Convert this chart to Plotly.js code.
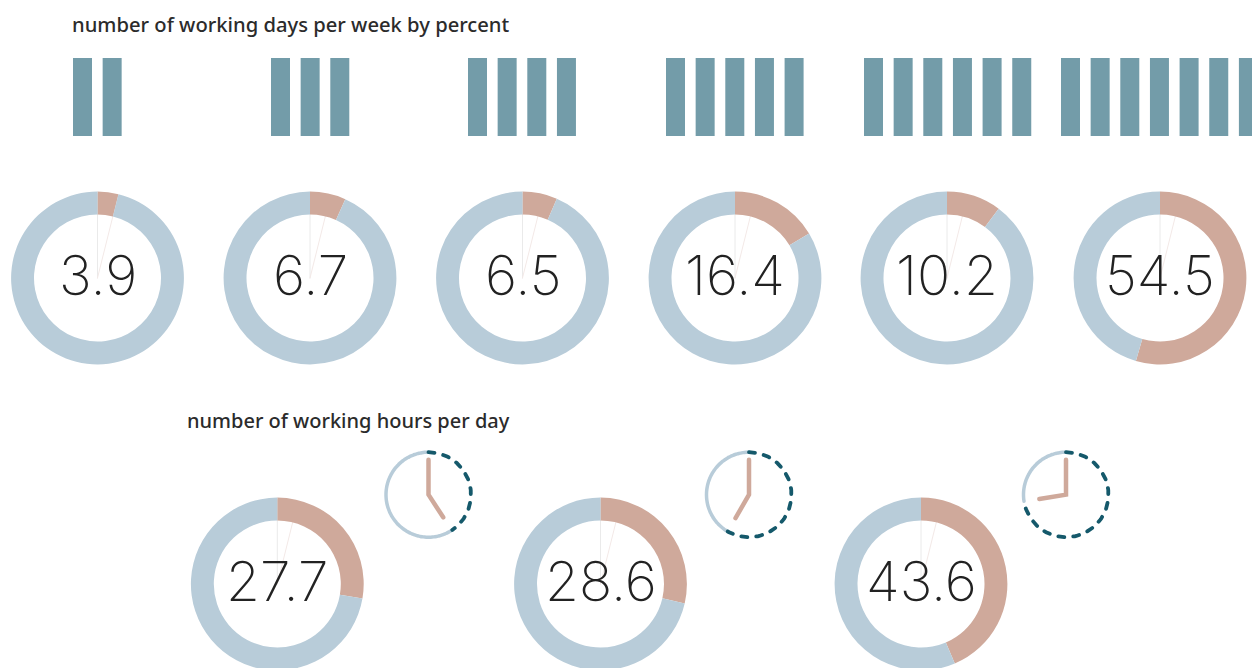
<!DOCTYPE html>
<html><head><meta charset="utf-8">
<script src="https://cdn.plot.ly/plotly-3.0.1.min.js"></script>
<style>
html,body{margin:0;padding:0;background:#fff;overflow:hidden;width:1252px;height:668px}
.js-line{stroke-linecap:round}
</style></head><body><div id="chart"></div>
<script>
// data
const daysPerWeek = [2, 3, 4, 5, 6, 7];
const daysShare = [3.9, 6.7, 6.5, 16.4, 10.2, 54.5];
const hoursShare = [27.7, 28.6, 43.6];
const clockHourAngle = [147, 210, 261];
const titleDays = "number of working days per week by percent";
const titleHours = "number of working hours per day";

// layout constants (pixels)
const W = 1252, H = 700;
const groupLeft = [73, 271, 468, 666, 864, 1061];
const barPitch = 29.65, barWidth = 19;
const dayCx = [97.5, 310, 522.5, 735, 947, 1160], dayCy = 278;
const hourCx = [277.3, 600.5, 921], hourCy = 584;
const R = 86.4;
const clockCx = [428.5, 749, 1066], clockCy = 494.7, clockR = 42.5;
const minuteLen = 35, hourLen = 27;
const COL = {ring:"#b8ccd9", share:"#cfa99b", bar:"#739ca9", dash:"#15596b", text:"#222222"};
const numFont = {family:"Inter, sans-serif", size:55, color:COL.text, weight:200};
const titleFont = {family:"'Noto Sans', sans-serif", size:20.2, color:"#2b2b2b", weight:500};
const titleFont2 = {family:"'Noto Sans', sans-serif", size:20, color:"#2b2b2b", weight:500};

const traces = [], annotations = [];
const pol = (cx, cy, r, deg) => [cx + r*Math.sin(deg*Math.PI/180), cy - r*Math.cos(deg*Math.PI/180)];

// bars
const bx = [], by = [];
daysPerWeek.forEach((n, g) => { for (let i = 0; i < n; i++) { bx.push(groupLeft[g] + barWidth/2 + i*barPitch); by.push(1); } });
traces.push({type:"bar", x:bx, y:by, width:barWidth, xaxis:"x", yaxis:"y2",
  marker:{color:COL.bar, line:{width:0}}, hoverinfo:"skip", showlegend:false});

function donut(v, cx, cy) {
  const a = pol(cx, cy, R-2, 14);
  traces.push({type:"scatter", mode:"lines", x:[cx,cx], y:[cy,cy-R+2], xaxis:"x", yaxis:"y",
    line:{color:"#eaeaea", width:1}, hoverinfo:"skip", showlegend:false});
  traces.push({type:"scatter", mode:"lines", x:[cx,a[0]], y:[cy,a[1]], xaxis:"x", yaxis:"y",
    line:{color:"#f3e9e7", width:1}, hoverinfo:"skip", showlegend:false});
  traces.push({type:"pie", values:[v, 100-v], sort:false, direction:"clockwise", rotation:0, hole:0.735,
    marker:{colors:[COL.share, COL.ring], line:{width:0}}, textinfo:"none", hoverinfo:"skip", showlegend:false,
    domain:{x:[(cx-R)/W,(cx+R)/W], y:[1-(cy+R)/H,1-(cy-R)/H]}});
  annotations.push({xref:"x", yref:"y", x:cx, y:cy-3, text:String(v), showarrow:false, font:numFont, xanchor:"center", yanchor:"middle"});
}
daysShare.forEach((v,i) => donut(v, dayCx[i], dayCy));
hoursShare.forEach((v,i) => donut(v, hourCx[i], hourCy));

// clocks
clockHourAngle.forEach((ang,i) => {
  const cx = clockCx[i], solid = [[],[]], dashed = [[],[]];
  for (let d = ang; d <= 360; d += 2) { const p = pol(cx, clockCy, clockR, d); solid[0].push(p[0]); solid[1].push(p[1]); }
  for (let d = 0; d <= ang; d += 2) { const p = pol(cx, clockCy, clockR, d); dashed[0].push(p[0]); dashed[1].push(p[1]); }
  traces.push({type:"scatter", mode:"lines", x:solid[0], y:solid[1], xaxis:"x", yaxis:"y",
    line:{color:COL.ring, width:3.5, shape:"spline"}, hoverinfo:"skip", showlegend:false});
  traces.push({type:"scatter", mode:"lines", x:dashed[0], y:dashed[1], xaxis:"x", yaxis:"y",
    line:{color:COL.dash, width:3.8, dash:"6px,9px"}, hoverinfo:"skip", showlegend:false});
  const top = pol(cx, clockCy, minuteLen, 0), end = pol(cx, clockCy, hourLen, ang);
  traces.push({type:"scatter", mode:"lines", x:[top[0],cx,end[0]], y:[top[1],clockCy,end[1]], xaxis:"x", yaxis:"y",
    line:{color:COL.share, width:4.5}, hoverinfo:"skip", showlegend:false});
});

annotations.push({xref:"x", yref:"y", x:69.5, y:24, text:titleDays, showarrow:false, font:titleFont, xanchor:"left", yanchor:"middle"});
annotations.push({xref:"x", yref:"y", x:512, y:420, text:titleHours, showarrow:false, font:titleFont2, xanchor:"right", yanchor:"middle"});

const layout = {
  width:W, height:H, margin:{l:0,r:0,t:0,b:0}, paper_bgcolor:"#fff", plot_bgcolor:"#fff",
  showlegend:false, hovermode:false, annotations, barmode:"overlay",
  xaxis:{range:[0,W], domain:[0,1], visible:false, fixedrange:true},
  yaxis:{range:[H,0], domain:[0,1], visible:false, fixedrange:true},
  yaxis2:{range:[0,1], domain:[1-136/H,1-58/H], visible:false, fixedrange:true, anchor:"x"}
};
Plotly.newPlot("chart", traces, layout, {displayModeBar:false, staticPlot:true});
</script></body></html>
